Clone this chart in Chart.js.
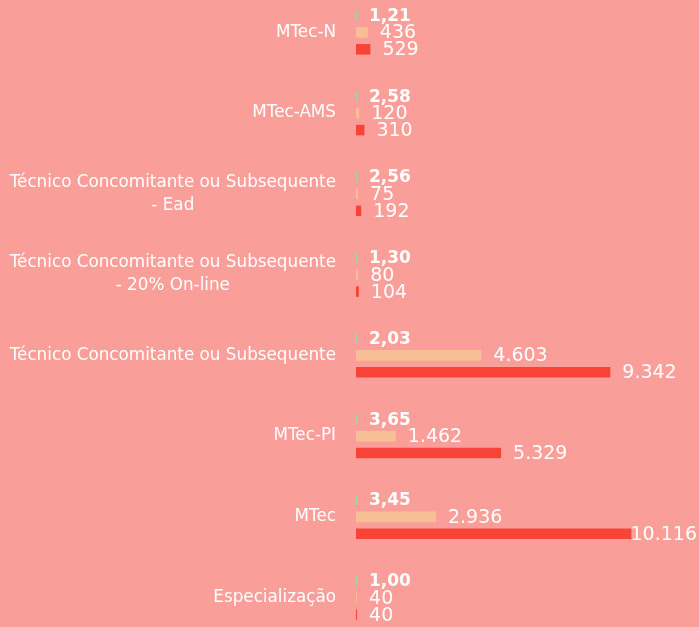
<!DOCTYPE html>
<html>
<head>
<meta charset="utf-8">
<script src="https://cdn.jsdelivr.net/npm/chart.js@4"></script>
<style>
html, body { margin: 0; padding: 0; background: #F99E98; overflow: hidden; }
#wrap { position: relative; width: 699px; height: 627px; overflow: hidden; }
#chart { position: absolute; left: 0; top: -8px; }
</style>
</head>
<body>
<div id="wrap"><canvas id="chart" width="699" height="646"></canvas></div>
<script>
const categories = [
    ['MTec-N'],
    ['MTec-AMS'],
    ['Técnico Concomitante ou Subsequente', '- Ead'],
    ['Técnico Concomitante ou Subsequente', '- 20% On-line'],
    ['Técnico Concomitante ou Subsequente'],
    ['MTec-PI'],
    ['MTec'],
    ['Especialização']
];
const relacao = [1.21, 2.58, 2.56, 1.30, 2.03, 3.65, 3.45, 1.00];
const vagas = [436, 120, 75, 80, 4603, 1462, 2936, 40];
const inscritos = [529, 310, 192, 104, 9342, 5329, 10116, 40];

const bgColor = '#F99E98';
const font = 'DejaVu Sans';

function fmtInt(n) {
    return String(n).replace(/\B(?=(\d{3})+(?!\d))/g, '.');
}
function fmtDec(n) {
    return n.toFixed(2).replace('.', ',');
}

// fundo rosa
const background = {
    id: 'background',
    beforeDraw(chart) {
        const ctx = chart.ctx;
        ctx.save();
        ctx.fillStyle = bgColor;
        ctx.fillRect(0, 0, chart.width, chart.height);
        ctx.restore();
    }
};

// rotulos das categorias e valores das barras
const labels = {
    id: 'labels',
    afterDatasetsDraw(chart) {
        const ctx = chart.ctx;
        const yScale = chart.scales.y;
        const right = chart.chartArea.left - 20;
        ctx.save();
        ctx.fillStyle = '#ffffff';
        ctx.textBaseline = 'middle';

        ctx.font = '16.8px "' + font + '"';
        categories.forEach((lines, i) => {
            const cy = yScale.getPixelForValue(i);
            const lh = 23;
            const y0 = cy - (lines.length - 1) * lh / 2;
            const w0 = ctx.measureText(lines[0]).width;
            lines.forEach((line, j) => {
                if (j === 0) {
                    ctx.textAlign = 'right';
                    ctx.fillText(line, right, y0);
                } else {
                    ctx.textAlign = 'center';
                    ctx.fillText(line, right - w0 / 2, y0 + j * lh);
                }
            });
        });

        ctx.textAlign = 'left';
        chart.data.datasets.forEach((ds, d) => {
            const meta = chart.getDatasetMeta(d);
            ctx.font = d === 0 ? 'bold 17px "' + font + '"' : '19px "' + font + '"';
            meta.data.forEach((bar, i) => {
                const txt = d === 0 ? fmtDec(ds.data[i]) : fmtInt(ds.data[i]);
                const w = ctx.measureText(txt).width;
                let x = bar.x + 12;
                if (x + w > chart.width - 2) x = chart.width - 2 - w;
                ctx.fillText(txt, x, bar.y + 1);
            });
        });
        ctx.restore();
    }
};

new Chart(document.getElementById('chart'), {
    type: 'bar',
    data: {
        labels: categories,
        datasets: [{
            label: 'Relação',
            data: relacao,
            backgroundColor: '#A3D6A9',
            minBarLength: 1,
            categoryPercentage: 0.63,
            barPercentage: 0.62
        }, {
            label: 'Vagas',
            data: vagas,
            backgroundColor: '#F8BE96',
            categoryPercentage: 0.63,
            barPercentage: 0.62
        }, {
            label: 'Inscritos',
            data: inscritos,
            backgroundColor: '#F84338',
            categoryPercentage: 0.63,
            barPercentage: 0.62
        }]
    },
    options: {
        indexAxis: 'y',
        responsive: false,
        animation: false,
        layout: { padding: { left: 356, right: 0, top: 0, bottom: 0 } },
        scales: {
            x: { display: false, min: 0, max: 12600 },
            y: { display: false }
        },
        plugins: {
            legend: { display: false },
            tooltip: { enabled: false }
        }
    },
    plugins: [background, labels]
});
</script>
</body>
</html>
